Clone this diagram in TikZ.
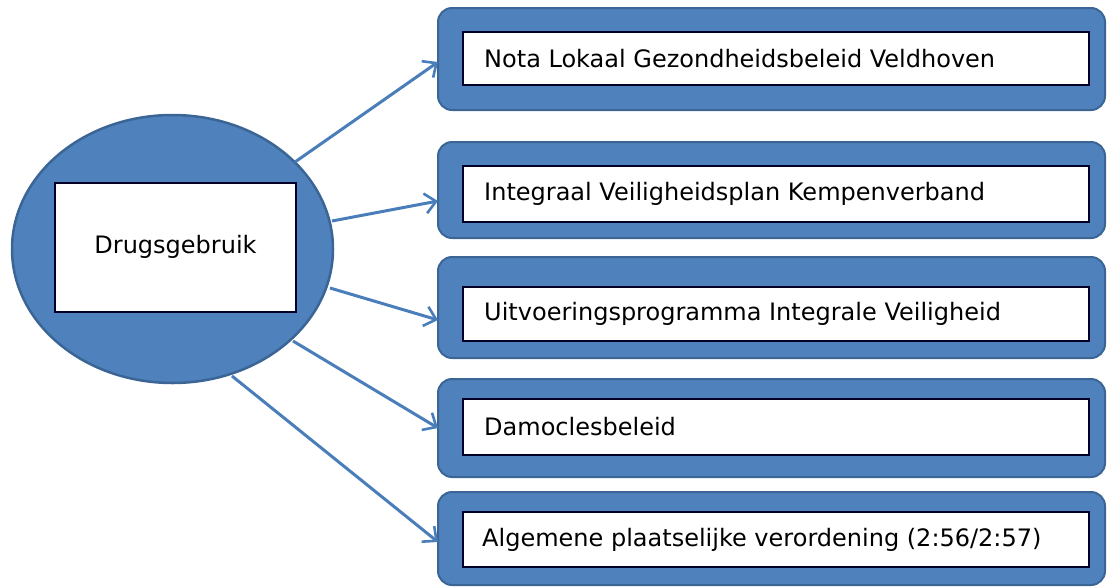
\documentclass[tikz,border=0pt]{standalone}
\usepackage{fontspec}
\setmainfont{DejaVu Sans}
\usetikzlibrary{arrows.meta,shapes.geometric}
\definecolor{bluefill}{HTML}{4F81BD}
\definecolor{blueedge}{HTML}{3A6594}
\definecolor{arrowblue}{HTML}{4A7EBB}
\tikzset{
  outerbox/.style={draw=blueedge, line width=2pt, fill=bluefill, rounded corners=14pt},
  innerbox/.style={draw=black!85!blue, line width=2pt, fill=white},
  lbl/.style={font=\fontsize{24}{28}\selectfont, anchor=west, inner sep=0pt},
  conn/.style={draw=arrowblue, line width=3pt, -{Straight Barb[length=11pt,width=20pt,line width=2.6pt]}}
}
\begin{document}
\begin{tikzpicture}[x=1pt,y=-1pt]
\useasboundingbox (0,0) rectangle (1108,587);
% central ellipse
\node[ellipse, draw=blueedge, line width=2.5pt, fill=bluefill, minimum width=321pt, minimum height=268pt, inner sep=0pt] (ell) at (172.5,249) {};
\draw[innerbox] (55,183) rectangle (296,312);
\node[font=\fontsize{24}{28}\selectfont, inner sep=0pt] (drug) at (175.5,247) {Drugsgebruik};
% boxes
\draw[outerbox] (438,8) rectangle (1105,110);
\draw[innerbox] (463,32) rectangle (1089,85);
\node[lbl] (t1) at (484,58.5) {Nota Lokaal Gezondheidsbeleid Veldhoven};
\coordinate (e1) at (438,62);
\draw[outerbox] (438,142) rectangle (1105,238);
\draw[innerbox] (463,166) rectangle (1089,222);
\node[lbl] (t2) at (484,194) {Integraal Veiligheidsplan Kempenverband};
\coordinate (e2) at (438,201);
\draw[outerbox] (438,257) rectangle (1105,358);
\draw[innerbox] (463,287) rectangle (1089,341);
\node[lbl] (t3) at (484,314) {Uitvoeringsprogramma Integrale Veiligheid};
\coordinate (e3) at (438,320);
\draw[outerbox] (438,379) rectangle (1105,477);
\draw[innerbox] (463,399) rectangle (1089,455);
\node[lbl] (t4) at (484,427) {Damoclesbeleid};
\coordinate (e4) at (438,428);
\draw[outerbox] (438,492) rectangle (1105,585);
\draw[innerbox] (463,512) rectangle (1089,567);
\node[lbl] (t5) at (482,539.5) {Algemene plaatselijke verordening (2:56/2:57)};
\coordinate (e5) at (438,542);
% connectors
\coordinate (s1) at (295,162);
\coordinate (s2) at (332,221);
\coordinate (s3) at (330,288);
\coordinate (s4) at (293,341);
\coordinate (s5) at (232,376);
\draw[conn] (s1) -- (e1);
\draw[conn] (s2) -- (e2);
\draw[conn] (s3) -- (e3);
\draw[conn] (s4) -- (e4);
\draw[conn] (s5) -- (e5);
\end{tikzpicture}
\end{document}
